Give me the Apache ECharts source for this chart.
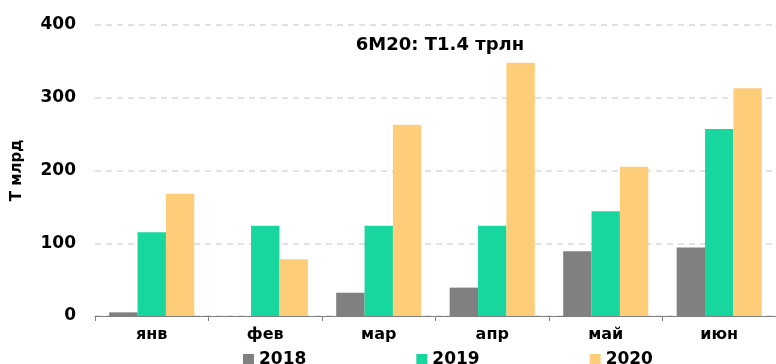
<!DOCTYPE html>
<html>
<head>
<meta charset="utf-8">
<script src="https://cdn.jsdelivr.net/npm/echarts@6/dist/echarts.min.js"></script>
<style>
  html, body { margin: 0; padding: 0; background: #fff; }
  #chart { width: 776px; height: 364px; }
</style>
</head>
<body>
<div id="chart"></div>
<script>
// 数据
const months = ['янв', 'фев', 'мар', 'апр', 'май', 'июн'];
const years = ['2018', '2019', '2020'];
const v2018 = [5, 0, 32, 39, 89, 94];
const v2019 = [115, 124, 124, 124, 144, 257];
const v2020 = [168, 78, 263, 348, 205, 313];
const yTicks = [0, 100, 200, 300, 400];
const colors = ['#808080', '#17d69e', '#fdcd7a'];

const font = 'DejaVu Sans, Verdana, sans-serif';

const chart = echarts.init(document.getElementById('chart'));
chart.setOption({
    animation: false,
    textStyle: { fontFamily: font },
    title: {
        text: '6M20: T1.4 трлн',
        left: 435,
        top: 31,
        textAlign: 'center',
        textStyle: { fontFamily: font, fontSize: 18, fontWeight: 'bold', color: '#000' },
    },
    legend: {
        data: years,
        left: 238,
        top: 346,
        itemWidth: 11,
        itemHeight: 11,
        itemGap: 110,
        icon: 'rect',
        textStyle: { fontFamily: font, fontSize: 17, fontWeight: 'bold', color: '#000' },
    },
    grid: { left: 95, right: 0, top: 25, bottom: 48, containLabel: false },
    xAxis: {
        type: 'category',
        data: months,
        axisLine: { lineStyle: { color: '#808080' } },
        axisTick: { show: true, length: 5, lineStyle: { color: '#808080' } },
        axisLabel: { margin: 11, fontFamily: font, fontSize: 16, fontWeight: 'bold', color: '#000' },
    },
    yAxis: {
        type: 'value',
        min: yTicks[0],
        max: yTicks[yTicks.length - 1],
        interval: 100,
        name: 'Т млрд',
        nameLocation: 'middle',
        nameRotate: 90,
        nameGap: 70,
        nameTextStyle: { fontFamily: font, fontSize: 15, fontWeight: 'bold', color: '#000' },
        axisLine: { show: false },
        axisTick: { show: false },
        axisLabel: { margin: 19, fontFamily: font, fontSize: 17, fontWeight: 'bold', color: '#000' },
        splitLine: { lineStyle: { color: '#d9d9d9', type: [6, 5], width: 1.5 } },
    },
    series: [
        { name: years[0], type: 'bar', data: v2018, barGap: 0, barCategoryGap: '25%', itemStyle: { color: colors[0] } },
        { name: years[1], type: 'bar', data: v2019, barGap: 0, barCategoryGap: '25%', itemStyle: { color: colors[1] } },
        { name: years[2], type: 'bar', data: v2020, barGap: 0, barCategoryGap: '25%', itemStyle: { color: colors[2] } },
    ],
});
</script>
</body>
</html>
